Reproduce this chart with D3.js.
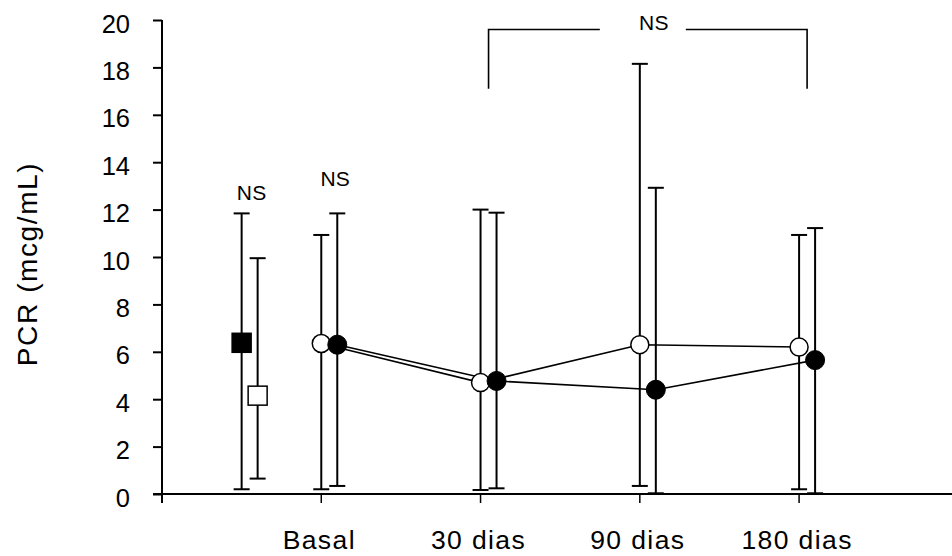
<!DOCTYPE html>
<html>
<head>
<meta charset="utf-8">
<script src="https://cdn.jsdelivr.net/npm/d3@7"></script>
<style>
  html, body { margin: 0; padding: 0; background: #fff; }
  svg { display: block; }
  text { font-family: "Liberation Sans", Arial, Helvetica, sans-serif; fill: #000; }
</style>
</head>
<body>
<svg id="chart" width="952" height="556"></svg>
<script>
// ---- data ----
const categories = ["Basal", "30 dias", "90 dias", "180 dias"];
const yTicks = [0, 2, 4, 6, 8, 10, 12, 14, 16, 18, 20];

// open-circle series
const openMean  = [6.35, 4.70, 6.30, 6.20];
const openUpper = [10.93, 12.00, 18.15, 10.93];
const openLower = [0.20, 0.17, 0.34, 0.20];

// filled-circle series
const filledMean  = [6.30, 4.77, 4.40, 5.65];
const filledUpper = [11.84, 11.87, 12.92, 11.22];
const filledLower = [0.34, 0.24, 0.03, 0.03];

// reference squares (left group)
const squareFilled = { mean: 6.38, upper: 11.84, lower: 0.20 };
const squareOpen   = { mean: 4.15, upper: 9.95,  lower: 0.65 };

// annotations
const nsLabels = [
  { pos: 0.5, value: 12.4, text: "NS", dx: 10 },
  { pos: 1,   value: 13.0, text: "NS", dx: 14 }
];
const bracket = { from: 2, to: 4, value: 19.6, drop: 17.1, text: "NS" };

// ---- layout ----
const svg = d3.select("#chart");
const x = d3.scaleLinear().domain([0, 4.96]).range([162, 952]);
const y = d3.scaleLinear().domain([0, 20]).range([494, 20]);
const offset = 16;     // filled series shifted right (px)
const capW = 16;

// y axis
const yAxis = svg.append("g").attr("transform", `translate(${x(0)},0)`)
  .call(d3.axisLeft(y).tickValues(yTicks).tickSize(9).tickPadding(23));
yAxis.select(".domain").remove();
yAxis.selectAll(".tick line").attr("stroke", "#000").attr("stroke-width", 2);
yAxis.selectAll(".tick text").attr("font-size", 25.5).attr("dy", "0.47em")
  .attr("font-family", "Liberation Sans, Arial, sans-serif");
svg.append("line").attr("x1", x(0)).attr("x2", x(0))
  .attr("y1", y(20)).attr("y2", y(0) + 9)
  .attr("stroke", "#000").attr("stroke-width", 2);

// x axis
svg.append("line").attr("x1", x(0) - 9).attr("x2", 952)
  .attr("y1", y(0)).attr("y2", y(0))
  .attr("stroke", "#000").attr("stroke-width", 2);
const xTickPos = [0, 1, 2, 3, 4];
svg.selectAll(".xtick").data(xTickPos).enter().append("line")
  .attr("x1", d => x(d)).attr("x2", d => x(d))
  .attr("y1", y(0)).attr("y2", y(0) + 9)
  .attr("stroke", "#000").attr("stroke-width", 1.5);
svg.selectAll(".xlab").data(categories).enter().append("text")
  .attr("x", (d, i) => x(i + 1) - 2).attr("y", 549)
  .attr("text-anchor", "middle").attr("font-size", 26.5)
  .attr("letter-spacing", 1.4)
  .text(d => d);

// y title
svg.append("text")
  .attr("transform", `translate(37,264) rotate(-90)`)
  .attr("text-anchor", "middle").attr("font-size", 28)
  .attr("letter-spacing", 1.6)
  .text("PCR (mcg/mL)");

// error bars helper
function errBar(px, lo, hi) {
  const g = svg.append("g").attr("stroke", "#000").attr("stroke-width", 2).attr("fill", "none");
  g.append("line").attr("x1", px).attr("x2", px).attr("y1", y(hi)).attr("y2", y(lo));
  g.append("line").attr("x1", px - capW / 2).attr("x2", px + capW / 2).attr("y1", y(hi)).attr("y2", y(hi));
  g.append("line").attr("x1", px - capW / 2).attr("x2", px + capW / 2).attr("y1", y(lo)).attr("y2", y(lo));
}

// squares error bars
errBar(x(0.5), squareFilled.lower, squareFilled.upper);
errBar(x(0.5) + offset, squareOpen.lower, squareOpen.upper);

// circle error bars
categories.forEach((c, i) => {
  errBar(x(i + 1), openLower[i], openUpper[i]);
  errBar(x(i + 1) + offset, filledLower[i], filledUpper[i]);
});

// lines
const lineOpen = d3.line().x((d, i) => x(i + 1)).y(d => y(d));
const lineFilled = d3.line().x((d, i) => x(i + 1) + offset).y(d => y(d));
svg.append("path").attr("d", lineOpen(openMean)).attr("fill", "none")
  .attr("stroke", "#000").attr("stroke-width", 1.6);
svg.append("path").attr("d", lineFilled(filledMean)).attr("fill", "none")
  .attr("stroke", "#000").attr("stroke-width", 1.6);

// squares
const sq = 19;
svg.append("rect").attr("x", x(0.5) - sq / 2).attr("y", y(squareFilled.mean) - sq / 2)
  .attr("width", sq).attr("height", sq).attr("fill", "#000").attr("stroke", "#000").attr("stroke-width", 1.5);
svg.append("rect").attr("x", x(0.5) + offset - sq / 2).attr("y", y(squareOpen.mean) - sq / 2)
  .attr("width", sq).attr("height", sq).attr("fill", "#fff").attr("stroke", "#000").attr("stroke-width", 1.5);

// circles
svg.selectAll(".copen").data(openMean).enter().append("circle")
  .attr("cx", (d, i) => x(i + 1)).attr("cy", d => y(d)).attr("r", 9)
  .attr("fill", "#fff").attr("stroke", "#000").attr("stroke-width", 1.5);
svg.selectAll(".cfill").data(filledMean).enter().append("circle")
  .attr("cx", (d, i) => x(i + 1) + offset).attr("cy", d => y(d)).attr("r", 9.5)
  .attr("fill", "#000").attr("stroke", "#000").attr("stroke-width", 1);

// NS labels
svg.selectAll(".ns").data(nsLabels).enter().append("text")
  .attr("x", d => x(d.pos) + d.dx).attr("y", d => y(d.value))
  .attr("text-anchor", "middle").attr("font-size", 21).attr("letter-spacing", 0.3)
  .text(d => d.text);

// bracket
const bx1 = x(bracket.from) + 8, bx2 = x(bracket.to) + 8, by = y(bracket.value), bd = y(bracket.drop);
const mid = (bx1 + bx2) / 2;
const gap = 43;
const bg = svg.append("g").attr("stroke", "#000").attr("stroke-width", 1.6).attr("fill", "none");
bg.append("path").attr("d", `M${bx1},${bd}V${by}H${mid - gap - 5}`);
bg.append("path").attr("d", `M${mid + gap - 5},${by}H${bx2}V${bd}`);
svg.append("text").attr("x", mid + 6).attr("y", by + 1)
  .attr("text-anchor", "middle").attr("font-size", 21).attr("letter-spacing", 0.3)
  .text(bracket.text);
</script>
</body>
</html>
